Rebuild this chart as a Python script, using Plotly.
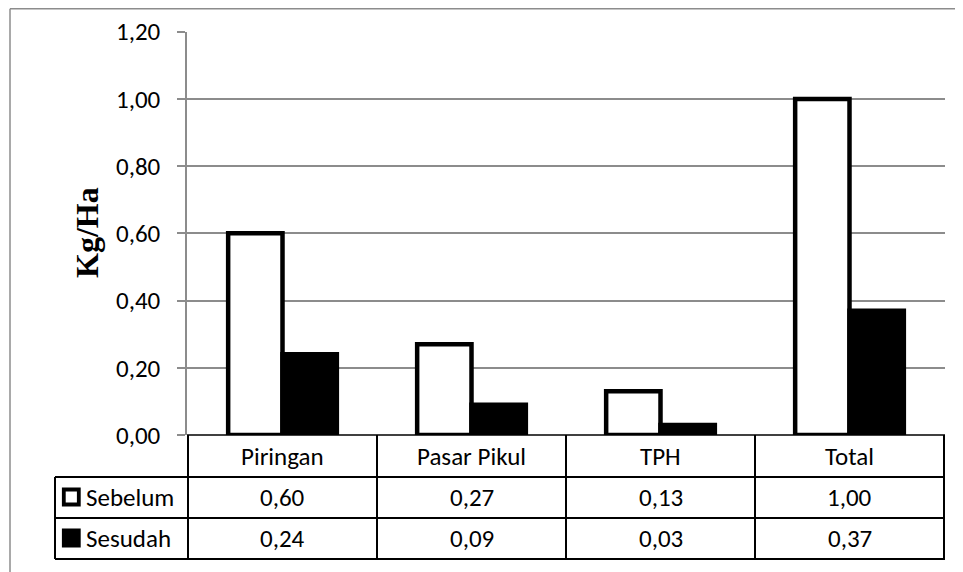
import plotly.graph_objects as go

# ---- data ----
categories = ["Piringan", "Pasar Pikul", "TPH", "Total"]
sebelum = [0.60, 0.27, 0.13, 1.00]
sesudah = [0.24, 0.09, 0.03, 0.37]
series_names = ["Sebelum", "Sesudah"]
y_ticks = [0.0, 0.2, 0.4, 0.6, 0.8, 1.0, 1.2]
y_title = "Kg/Ha"

W, H = 963, 572
OFF = 8  # page body margin in the browser


def PX(x):
    return (x - OFF) / W


def PY(y):
    return 1 - (y - OFF) / H


def fmt(v):
    return f"{v:.2f}".replace(".", ",")


FONT = "Carlito, Lato, sans-serif"
FS = 25
GRID = "#8c8c8c"

fig = go.Figure()
fig.add_trace(go.Bar(
    x=categories, y=sebelum, name=series_names[0],
    marker=dict(color="white", line=dict(color="black", width=4.5)),
))
fig.add_trace(go.Bar(
    x=categories, y=sesudah, name=series_names[1],
    marker=dict(color="black", line=dict(color="black", width=4.5)),
))

# table geometry (pixel layout, reference image coordinates)
x_left_legend = 55
x_axis = 187
x_right = 945
y_axis0 = 435
y_top = 31.7
row_lines = [477, 518, 559]
header_y = 456
row_y = [497, 538]

shapes = []
for k in range(len(categories) + 1):
    shapes.append(dict(type="line", xref="x", yref="paper",
                       x0=k - 0.5, x1=k - 0.5, y0=PY(y_axis0), y1=PY(row_lines[-1]),
                       line=dict(color="black", width=2)))
for ry in row_lines:
    shapes.append(dict(type="line", xref="paper", yref="paper",
                       x0=PX(x_left_legend), x1=PX(x_right), y0=PY(ry), y1=PY(ry),
                       line=dict(color="black", width=2)))
shapes.append(dict(type="line", xref="paper", yref="paper",
                   x0=PX(x_left_legend), x1=PX(x_left_legend),
                   y0=PY(row_lines[0]), y1=PY(row_lines[-1]),
                   line=dict(color="black", width=2)))
shapes.append(dict(type="line", xref="paper", yref="paper",
                   x0=PX(x_axis), x1=PX(x_right), y0=PY(y_axis0), y1=PY(y_axis0),
                   line=dict(color="black", width=1.5)))
key_fill = ["white", "black"]
for i, ry in enumerate(row_y):
    shapes.append(dict(type="rect", xref="paper", yref="paper",
                       x0=PX(63.8), x1=PX(78.8), y0=PY(ry - 7.5), y1=PY(ry + 7.5),
                       fillcolor=key_fill[i], line=dict(color="black", width=3.8)))
# outer chart border (top and left edges visible)
shapes.append(dict(type="line", xref="paper", yref="paper",
                   x0=PX(10), x1=1, y0=PY(8.8), y1=PY(8.8),
                   line=dict(color=GRID, width=1.5), layer="below"))
shapes.append(dict(type="line", xref="paper", yref="paper",
                   x0=PX(10), x1=PX(10), y0=PY(8.8), y1=0,
                   line=dict(color=GRID, width=1.5), layer="below"))

annotations = []
for i, cat in enumerate(categories):
    annotations.append(dict(x=i, xref="x", y=PY(header_y), yref="paper",
                            text=cat, showarrow=False, xanchor="center", yanchor="middle",
                            font=dict(family=FONT, size=FS, color="black")))
    for vals, ry in zip([sebelum, sesudah], row_y):
        annotations.append(dict(x=i, xref="x", y=PY(ry), yref="paper",
                                text=fmt(vals[i]), showarrow=False,
                                xanchor="center", yanchor="middle",
                                font=dict(family=FONT, size=FS, color="black")))
for name, ry in zip(series_names, row_y):
    annotations.append(dict(x=PX(84), xref="paper", y=PY(ry), yref="paper",
                            text=name, showarrow=False, xanchor="left", yanchor="middle",
                            font=dict(family=FONT, size=FS, color="black")))
annotations.append(dict(x=PX(87), xref="paper", y=PY(233), yref="paper",
                        text=f"<b>{y_title}</b>", showarrow=False, textangle=-90,
                        xanchor="center", yanchor="middle",
                        font=dict(family="Liberation Serif, Times New Roman, serif",
                                  size=32, color="black")))

fig.update_layout(
    width=W, height=H,
    margin=dict(l=0, r=0, t=0, b=0, autoexpand=False),
    paper_bgcolor="white", plot_bgcolor="white",
    barmode="group", bargap=0.425, bargroupgap=0,
    showlegend=False,
    shapes=shapes, annotations=annotations,
    xaxis=dict(domain=[PX(x_axis), PX(x_right)], showticklabels=False, automargin=False,
               showgrid=False, zeroline=False, showline=False, ticks=""),
    yaxis=dict(domain=[PY(y_axis0), PY(y_top)], range=[0, 1.2], automargin=False,
               tickvals=y_ticks, ticktext=[fmt(v) for v in y_ticks],
               showgrid=True, gridcolor=GRID, gridwidth=1.5,
               zeroline=False, showline=True, linecolor=GRID, linewidth=1.5,
               ticks="outside", ticklen=8, tickcolor=GRID, tickwidth=1.5,
               ticklabelstandoff=12,
               tickfont=dict(family=FONT, size=FS, color="black")),
)

fig.write_html("out.html")
